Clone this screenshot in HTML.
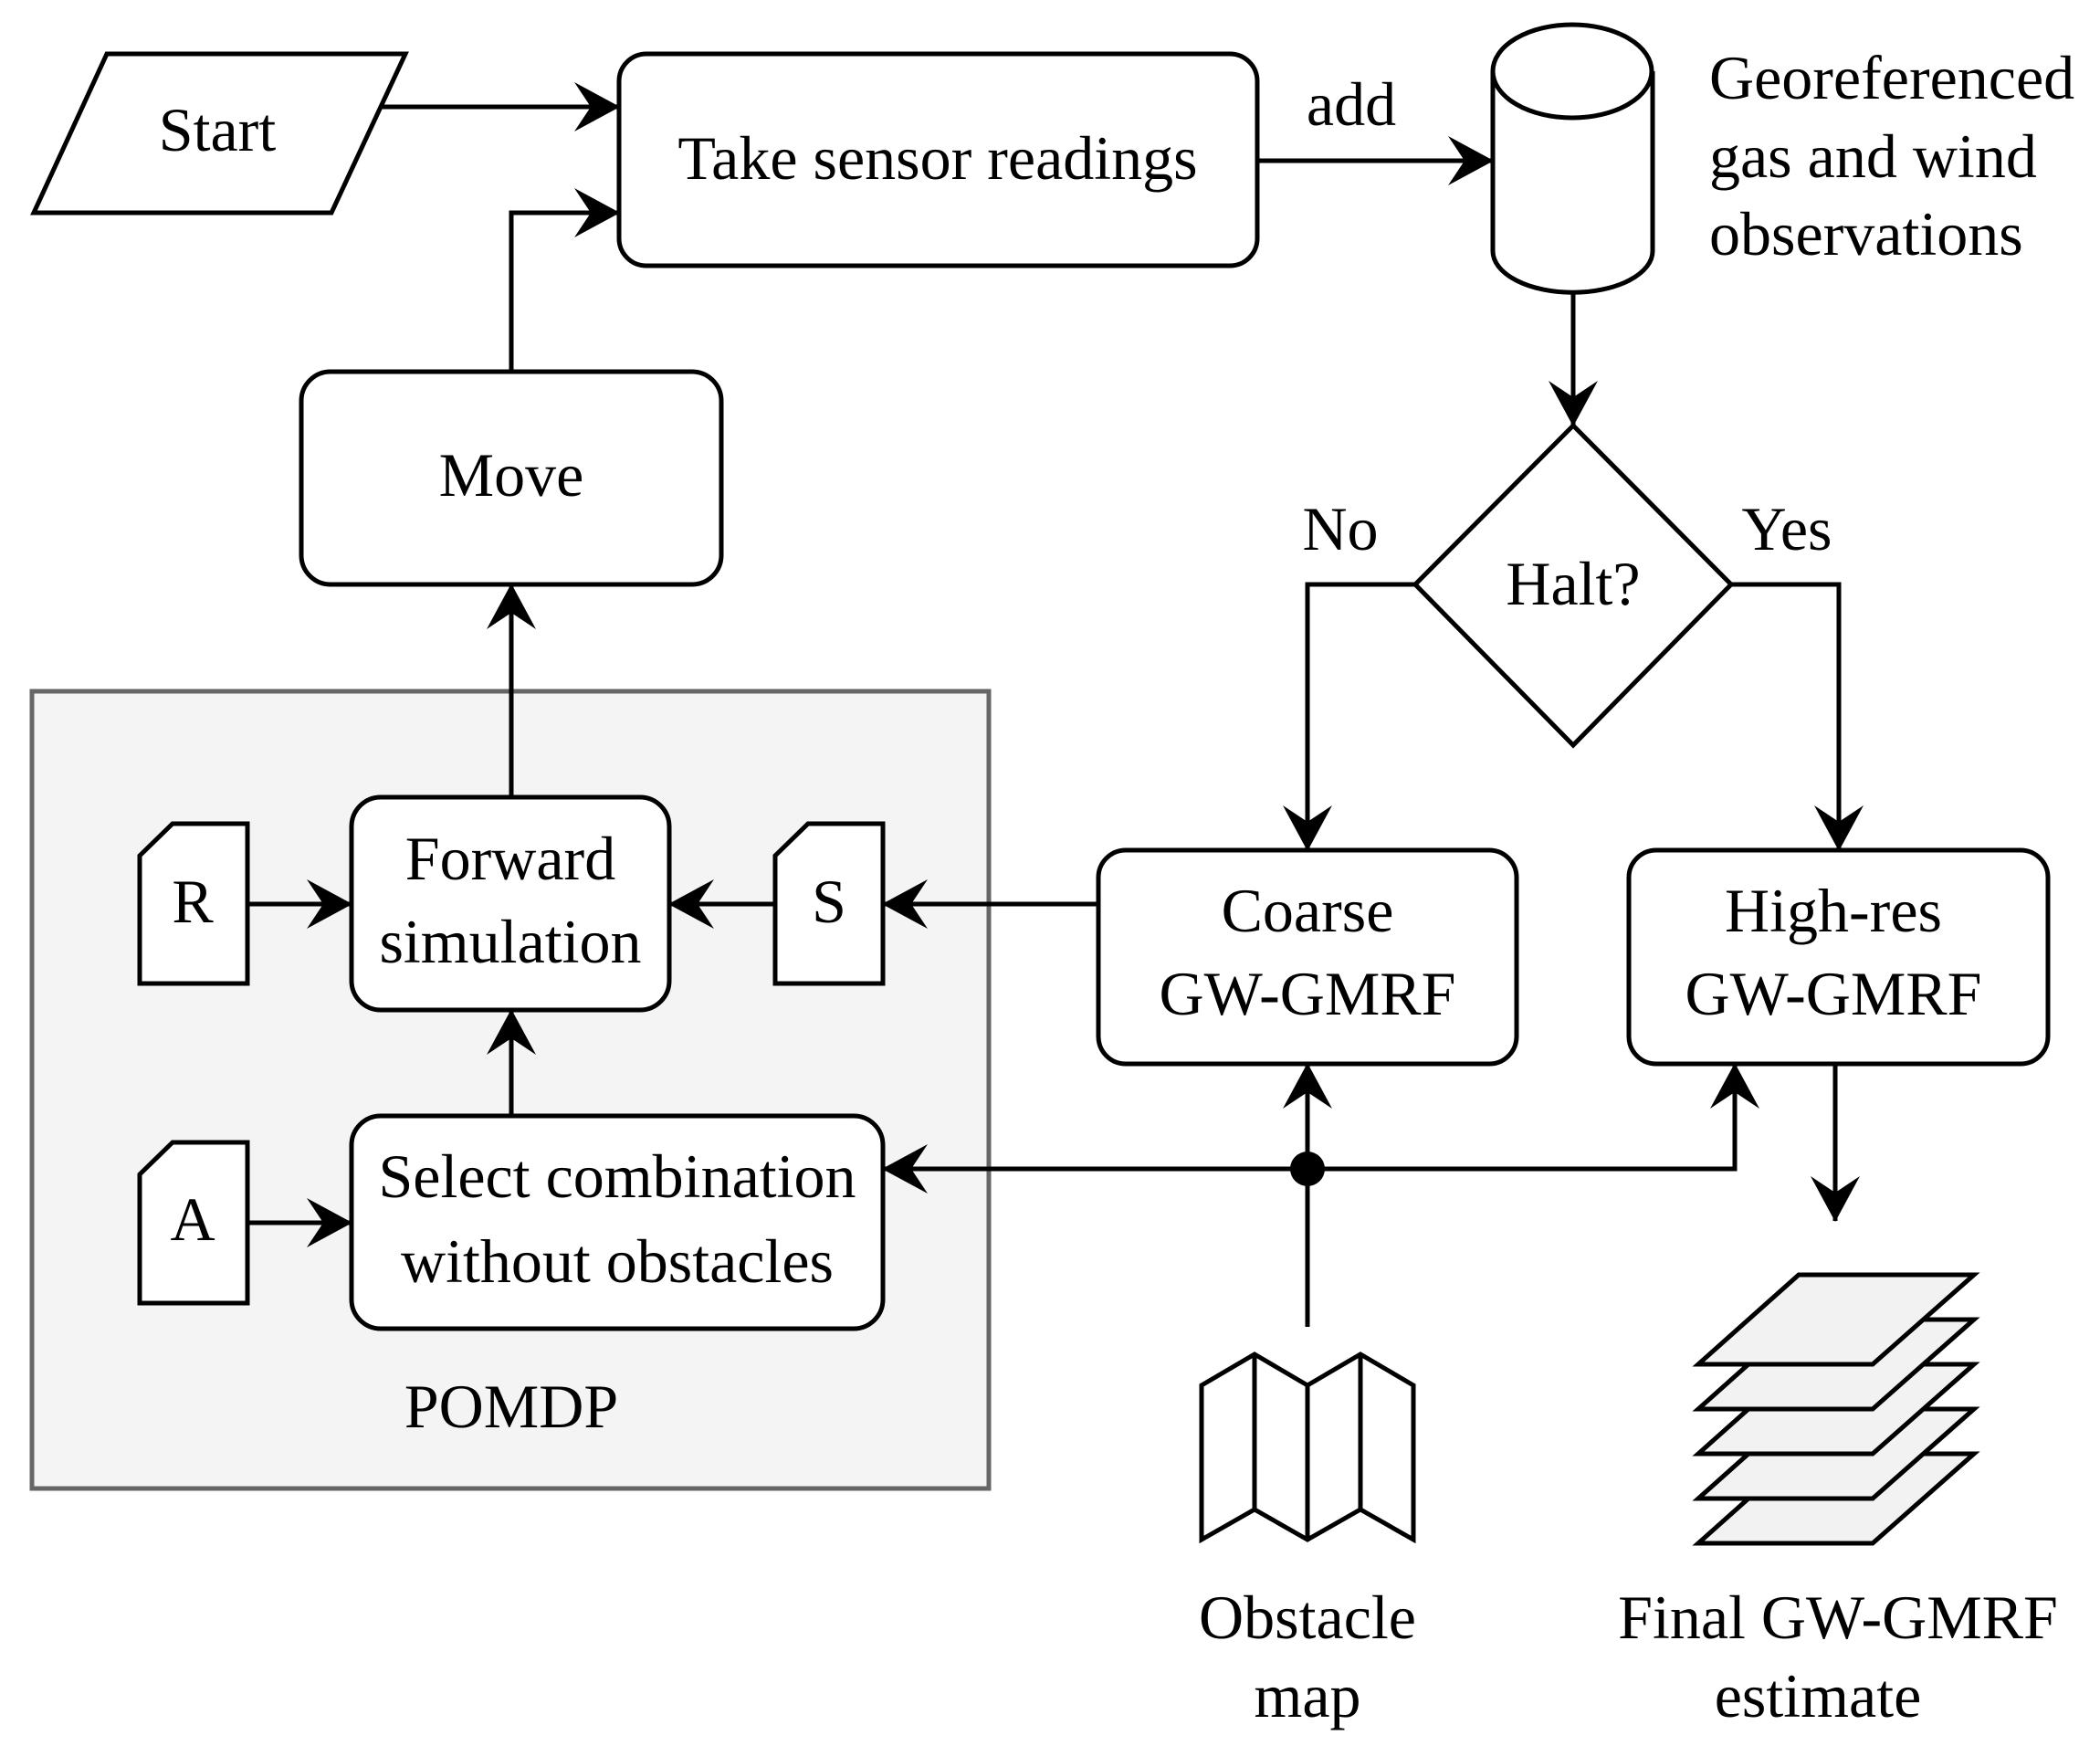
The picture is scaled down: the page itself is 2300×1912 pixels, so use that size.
<!DOCTYPE html>
<html><head><meta charset="utf-8"><style>html,body{margin:0;padding:0;background:#fff}svg{display:block}</style></head>
<body>
<svg width="2300" height="1912" viewBox="0 0 2300 1912" xmlns="http://www.w3.org/2000/svg" font-family="'Liberation Serif', serif" font-size="68" fill="#000">
<defs>
<marker id="ah" markerUnits="userSpaceOnUse" markerWidth="60" markerHeight="60" refX="49" refY="27" orient="auto" viewBox="0 0 60 60">
<path d="M0,0 L50,27 L0,54 L18,27 Z" fill="#000"/>
</marker>
</defs>
<g stroke="#000" stroke-width="5" fill="none">
<rect x="35" y="757" width="1048" height="873" fill="#f4f4f4" stroke="#666"/>
<polygon points="117,59 444,59 363,233 37,233" fill="#fff"/>
<rect x="678" y="59" width="699" height="232" rx="30" fill="#fff"/>
<rect x="330" y="407" width="460" height="233" rx="32" fill="#fff"/>
<rect x="385" y="873" width="348" height="233" rx="32" fill="#fff"/>
<rect x="385" y="1222" width="582" height="233" rx="32" fill="#fff"/>
<path d="M189,902 L271,902 L271,1077 L153,1077 L153,937 Z" fill="#fff"/>
<path d="M885,902 L967,902 L967,1077 L849,1077 L849,937 Z" fill="#fff"/>
<path d="M189,1251 L271,1251 L271,1427 L153,1427 L153,1286 Z" fill="#fff"/>
<rect x="1203" y="931" width="458" height="234" rx="30" fill="#fff"/>
<rect x="1784" y="931" width="459" height="234" rx="30" fill="#fff"/>
<polygon points="1723,466 1896,640 1723,816 1550,640" fill="#fff"/>
<path d="M1635,78 L1635,275 A87,45 0 0 0 1810,275 L1810,78" fill="#fff"/>
<ellipse cx="1722" cy="78" rx="87" ry="51" fill="#fff"/>
<polygon points="1316,1517 1374,1483 1432,1517 1490,1483 1548,1517 1548,1686 1490,1653 1432,1686 1374,1653 1316,1686" fill="#fff"/>
<line x1="1374" y1="1483" x2="1374" y2="1653"/>
<line x1="1432" y1="1517" x2="1432" y2="1686"/>
<line x1="1490" y1="1483" x2="1490" y2="1653"/>
<polygon points="1970,1592 2162,1592 2051,1690 1860,1690" fill="#f2f2f2"/>
<polygon points="1970,1543 2162,1543 2051,1641 1860,1641" fill="#f2f2f2"/>
<polygon points="1970,1494 2162,1494 2051,1592 1860,1592" fill="#f2f2f2"/>
<polygon points="1970,1445 2162,1445 2051,1543 1860,1543" fill="#f2f2f2"/>
<polygon points="1970,1396 2162,1396 2051,1494 1860,1494" fill="#f2f2f2"/>
<path d="M418,117 L678,117" marker-end="url(#ah)"/>
<path d="M560,407 L560,233 L678,233" marker-end="url(#ah)"/>
<path d="M560,873 L560,640" marker-end="url(#ah)"/>
<path d="M560,1222 L560,1106" marker-end="url(#ah)"/>
<path d="M271,990 L385,990" marker-end="url(#ah)"/>
<path d="M849,990 L733,990" marker-end="url(#ah)"/>
<path d="M1203,990 L967,990" marker-end="url(#ah)"/>
<path d="M271,1339 L385,1339" marker-end="url(#ah)"/>
<path d="M1377,176 L1635,176" marker-end="url(#ah)"/>
<path d="M1723,320 L1723,466" marker-end="url(#ah)"/>
<path d="M1550,640 L1432,640 L1432,931" marker-end="url(#ah)"/>
<path d="M1896,640 L2014,640 L2014,931" marker-end="url(#ah)"/>
<path d="M1432,1453 L1432,1165" marker-end="url(#ah)"/>
<path d="M1432,1280 L967,1280" marker-end="url(#ah)"/>
<path d="M1432,1280 L1900,1280 L1900,1165" marker-end="url(#ah)"/>
<path d="M2010,1165 L2010,1337" marker-end="url(#ah)"/>
</g>
<circle cx="1432" cy="1280" r="19" fill="#000"/>
<g text-anchor="middle">
<text x="238" y="165">Start</text>
<text x="1027" y="196">Take sensor readings</text>
<text x="1480" y="137">add</text>
<text x="560" y="543">Move</text>
<text x="559" y="963">Forward</text>
<text x="559" y="1054">simulation</text>
<text x="211" y="1010">R</text>
<text x="908" y="1010">S</text>
<text x="211" y="1358">A</text>
<text x="676" y="1311">Select combination</text>
<text x="676" y="1404">without obstacles</text>
<text x="560" y="1563">POMDP</text>
<text x="1468" y="602">No</text>
<text x="1957" y="602">Yes</text>
<text x="1723" y="662">Halt?</text>
<text x="1432" y="1020">Coarse</text>
<text x="1432" y="1111">GW-GMRF</text>
<text x="2008" y="1020">High-res</text>
<text x="2008" y="1111">GW-GMRF</text>
<text x="1432" y="1794">Obstacle</text>
<text x="1432" y="1880">map</text>
<text x="2013" y="1794">Final GW-GMRF</text>
<text x="1991" y="1880">estimate</text>
</g>
<text x="1872" y="108">Georeferenced</text>
<text x="1872" y="194">gas and wind</text>
<text x="1872" y="279">observations</text>
</svg>
</body></html>
